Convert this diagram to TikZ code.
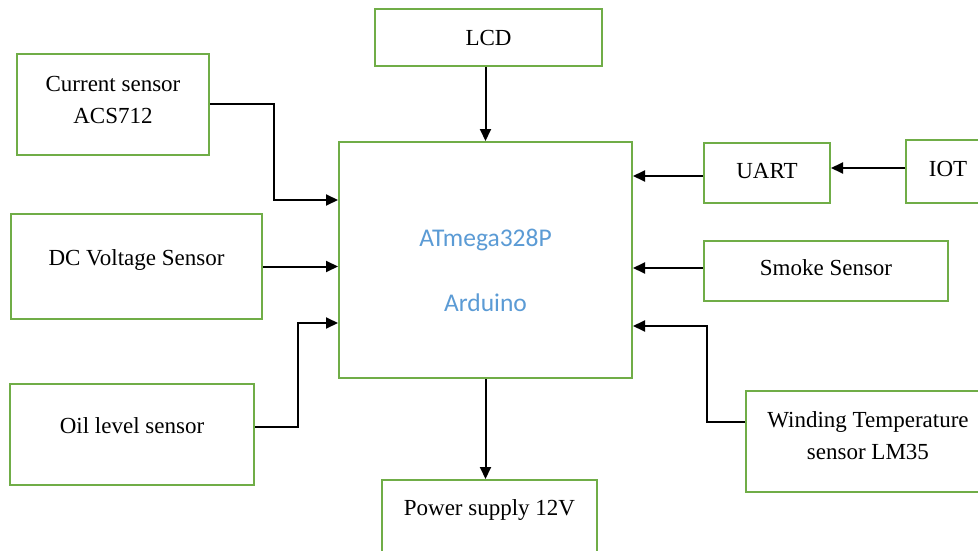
\documentclass[tikz,border=0pt]{standalone}
\usepackage{fontspec}
\setmainfont{Liberation Serif}
\newfontfamily\mcufont{Carlito}
\usepackage{tikz}
\usetikzlibrary{arrows.meta,positioning}
\definecolor{BoxGreen}{HTML}{70AD47}
\definecolor{McuBlue}{HTML}{5B9BD5}
\newcommand{\boxfont}{\fontsize{23}{32}\selectfont}

\begin{document}
\begin{tikzpicture}[
  x=1pt, y=-1pt,
  block/.style={rectangle, draw=BoxGreen, line width=2pt, fill=white, inner sep=0pt,
    align=center, font=\boxfont},
  arrow/.style={-{Triangle[length=12pt,width=11pt]}, black, line width=2pt}
]
\clip (0,0) rectangle (978,551);
\fill[white] (0,0) rectangle (978,551);

\node (mcu) [block, minimum width=293pt, minimum height=236pt,
  font=\mcufont\fontsize{25.5}{65}\selectfont, text=McuBlue] at (485.5,260)
  {\raisebox{-12pt}[0pt][0pt]{\begin{tabular}{@{}c@{}}ATmega328P\\Arduino\end{tabular}}};
\node (lcd) [block, minimum width=227pt, minimum height=57pt] at (488.5,37.5) {LCD};
\node (cur) [block, minimum width=192pt, minimum height=101pt, text depth=9pt] at (113,104.5) {Current sensor\\ACS712};
\node (dcv) [block, minimum width=251pt, minimum height=105pt, text depth=17pt] at (136.5,266.5) {DC Voltage Sensor};
\node (oil) [block, minimum width=244pt, minimum height=101pt, text depth=17pt] at (132,434.5) {Oil level sensor};
\node (uart) [block, minimum width=126pt, minimum height=60pt, text depth=5pt] at (767,173) {UART};
\node (iot) [block, minimum width=84pt, minimum height=63pt, text depth=5pt] at (948,171.5) {IOT};
\node (smoke) [block, minimum width=244pt, minimum height=60pt, text depth=7pt] at (826,271) {Smoke Sensor};
\node (wind) [block, minimum width=244pt, minimum height=101pt, text depth=12pt] at (868,441.5) {Winding Temperature\\sensor LM35};
\node (psu) [block, minimum width=215pt, minimum height=95pt, text depth=40pt, anchor=north] at (489.5,479) {Power supply 12V};

\draw[arrow] (mcu.north |- lcd.south) -- (mcu.north);
\draw[arrow] (cur.east) -- ++(64,0) |- ([yshift=60pt]mcu.west);
\draw[arrow] (dcv.east) -- (dcv.east -| mcu.west);
\draw[arrow] ([yshift=8pt]oil.east) -- ++(43,0) |- ([yshift=-63pt]mcu.west);
\draw[arrow] ([yshift=-3pt]uart.west) -- ([yshift=-3pt]uart.west -| mcu.east);
\draw[arrow] ([yshift=3.5pt]iot.west) -- ([yshift=3.5pt]iot.west -| uart.east);
\draw[arrow] ([yshift=3pt]smoke.west) -- ([yshift=3pt]smoke.west -| mcu.east);
\draw[arrow] ([yshift=19.5pt]wind.west) -- ++(-38,0) |- ([yshift=-66pt]mcu.east);
\draw[arrow] (mcu.south) -- (mcu.south |- psu.north);
\end{tikzpicture}
\end{document}
